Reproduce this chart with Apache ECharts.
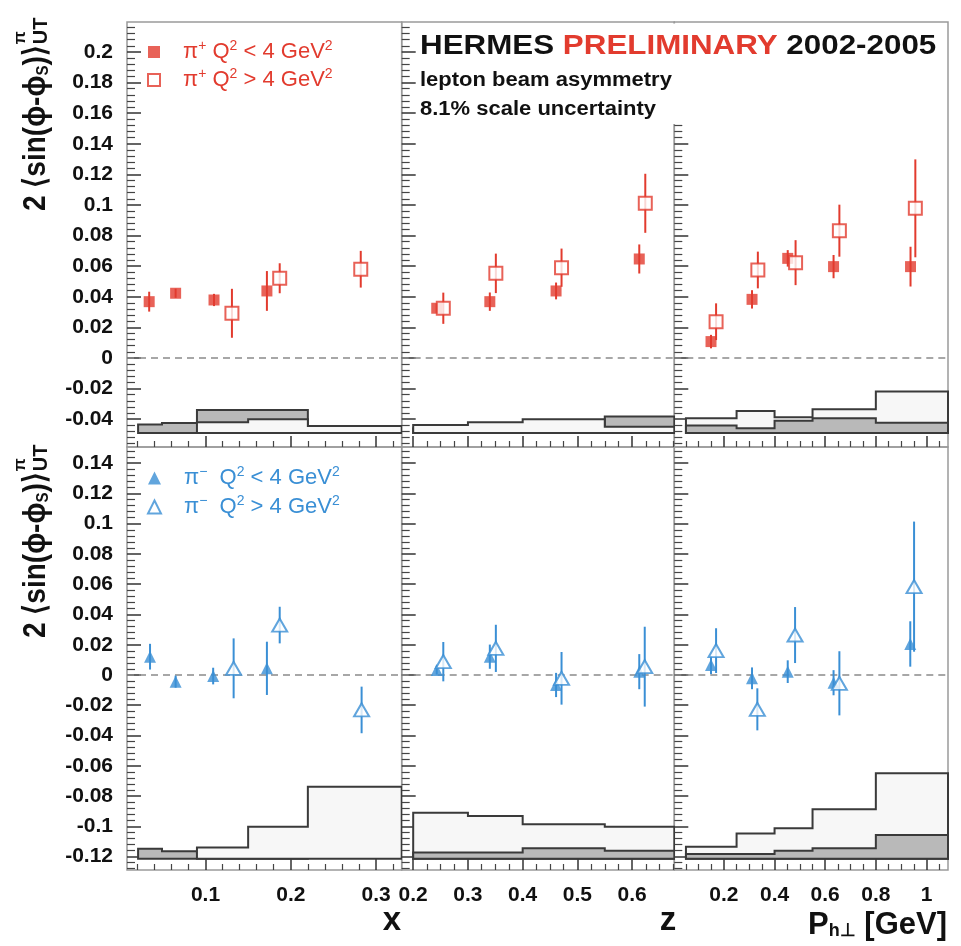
<!DOCTYPE html>
<html>
<head>
<meta charset="utf-8">
<title>HERMES lepton beam asymmetry</title>
<script src="https://cdn.jsdelivr.net/npm/echarts@6.0.0/dist/echarts.min.js"></script>
<style>
html,body{margin:0;padding:0;background:#ffffff;}
#chart{width:961px;height:946px;}
</style>
</head>
<body>
<div id="chart"></div>
<script>
// ================= DATA =================
// ---- pi+ (top row) ----
const pipX_lo_x = [0.034, 0.065, 0.110, 0.172];
const pipX_lo_y = [0.0368, 0.0423, 0.0379, 0.0438];
const pipX_lo_e = [0.0065, 0.0030, 0.0040, 0.0130];
const pipX_hi_x = [0.131, 0.187, 0.282];
const pipX_hi_y = [0.0292, 0.0521, 0.0580];
const pipX_hi_e = [0.0160, 0.0098, 0.0120];

const pipZ_lo_x = [0.243, 0.340, 0.461, 0.613];
const pipZ_lo_y = [0.0325, 0.0368, 0.0438, 0.0647];
const pipZ_lo_e = [0.0030, 0.0060, 0.0055, 0.0095];
const pipZ_hi_x = [0.255, 0.351, 0.471, 0.624];
const pipZ_hi_y = [0.0325, 0.0553, 0.0590, 0.1011];
const pipZ_hi_e = [0.0102, 0.0129, 0.0125, 0.0193];

const pipP_lo_x = [0.149, 0.311, 0.452, 0.633, 0.937];
const pipP_lo_y = [0.0107, 0.0383, 0.0651, 0.0597, 0.0597];
const pipP_lo_e = [0.0044, 0.0060, 0.0054, 0.0076, 0.0130];
const pipP_hi_x = [0.169, 0.334, 0.483, 0.656, 0.956];
const pipP_hi_y = [0.0237, 0.0575, 0.0623, 0.0832, 0.0978];
const pipP_hi_e = [0.0120, 0.0120, 0.0147, 0.0170, 0.0320];

// ---- pi- (bottom row) ----
const pimX_lo_x = [0.035, 0.065, 0.109, 0.172];
const pimX_lo_y = [0.0121, -0.0044, -0.0007, 0.0044];
const pimX_lo_e = [0.0085, 0.0040, 0.0055, 0.0176];
const pimX_hi_x = [0.133, 0.187, 0.283];
const pimX_hi_y = [0.0044, 0.0330, -0.0231];
const pimX_hi_e = [0.0198, 0.0121, 0.0154];

const pimZ_lo_x = [0.243, 0.340, 0.461, 0.613];
const pimZ_lo_y = [0.0033, 0.0121, -0.0066, 0.0022];
const pimZ_lo_e = [0.0030, 0.0080, 0.0080, 0.0116];
const pimZ_hi_x = [0.255, 0.351, 0.471, 0.623];
const pimZ_hi_y = [0.0088, 0.0176, -0.0022, 0.0055];
const pimZ_hi_e = [0.0130, 0.0156, 0.0174, 0.0264];

const pimP_lo_x = [0.149, 0.311, 0.452, 0.633, 0.936];
const pimP_lo_y = [0.0066, -0.0022, 0.0022, -0.0051, 0.0205];
const pimP_lo_e = [0.0060, 0.0072, 0.0075, 0.0083, 0.0150];
const pimP_hi_x = [0.169, 0.332, 0.481, 0.656, 0.951];
const pimP_hi_y = [0.0161, -0.0227, 0.0264, -0.0055, 0.0584];
const pimP_hi_e = [0.0148, 0.0139, 0.0185, 0.0212, 0.0430];

// ---- systematic-uncertainty histograms ----
const xBinsLo = [0.021, 0.049, 0.09, 0.15, 0.22];
const xBinsHi = [0.09, 0.15, 0.22, 0.40];
const zBins   = [0.2, 0.3, 0.4, 0.55, 0.7];
const phBins  = [0.05, 0.25, 0.4, 0.55, 0.8, 1.2];
const sysBaseTop = -0.049;
const sysBaseBot = -0.1215;
const pipX_sysLo = [-0.0435, -0.0425, -0.0340, -0.0340];
const pipX_sysHi = [-0.0420, -0.0400, -0.0444];
const pipZ_sysLo = [-0.0460, -0.0460, -0.0455, -0.0383];
const pipZ_sysHi = [-0.0438, -0.0420, -0.0400, -0.0449];
const pipP_sysLo = [-0.0442, -0.0459, -0.0410, -0.0394, -0.0423];
const pipP_sysHi = [-0.0394, -0.0346, -0.0388, -0.0335, -0.0220];
const pimX_sysLo = [-0.1148, -0.1165, -0.1180, -0.1180];
const pimX_sysHi = [-0.1141, -0.1003, -0.0738];
const pimZ_sysLo = [-0.1174, -0.1174, -0.1146, -0.1161];
const pimZ_sysHi = [-0.0910, -0.0932, -0.0987, -0.1003];
const pimP_sysLo = [-0.1183, -0.1183, -0.1161, -0.1146, -0.1057];
const pimP_sysHi = [-0.1135, -0.1047, -0.1013, -0.0888, -0.0650];

// ---- axis ranges and tick labels ----
const xRange = { x: [0.008, 0.330], z: [0.179, 0.677], ph: [0.004, 1.085] };
const yRange = { top: [-0.0582, 0.2196], bot: [-0.1289, 0.1507] };
const xTickLabels = { x: [0.1, 0.2, 0.3], z: [0.2, 0.3, 0.4, 0.5, 0.6], ph: [0.2, 0.4, 0.6, 0.8, 1.0] };
const xMinorStep = { x: 0.02, z: 0.025, ph: 0.05 };
const yTickLabelsTop = [-0.04, -0.02, 0, 0.02, 0.04, 0.06, 0.08, 0.1, 0.12, 0.14, 0.16, 0.18, 0.2];
const yTickLabelsBot = [-0.12, -0.1, -0.08, -0.06, -0.04, -0.02, 0, 0.02, 0.04, 0.06, 0.08, 0.1, 0.12, 0.14];
const yMinorStep = 0.004;

// ================= STYLE / LAYOUT =================
const RED = '#e23b2e';
const BLUE = '#3a8fd5';
const FILL_DARK = '#b9b9b9';
const FILL_LIGHT = '#f7f7f7';
const HIST_LINE = '#3a3a3a';
const FONT = "'Liberation Sans', Arial, Helvetica, sans-serif";
const COL_L = [127, 401.7, 674.3];
const COL_W = [274.7, 272.6, 273.7];
const ROW_T = [22, 447];
const ROW_H = [425, 423];

const panels = [
  { r: 0, c: 0, kind: 'x',  row: 'top', color: RED,  sym: 'rect', names: ['pipLo', 'pipHi'],
    lo: [pipX_lo_x, pipX_lo_y, pipX_lo_e], hi: [pipX_hi_x, pipX_hi_y, pipX_hi_e],
    binsLo: xBinsLo, binsHi: xBinsHi, sysLo: pipX_sysLo, sysHi: pipX_sysHi, first: 'lo' },
  { r: 0, c: 1, kind: 'z',  row: 'top', color: RED,  sym: 'rect', names: ['pipLo', 'pipHi'],
    lo: [pipZ_lo_x, pipZ_lo_y, pipZ_lo_e], hi: [pipZ_hi_x, pipZ_hi_y, pipZ_hi_e],
    binsLo: zBins, binsHi: zBins, sysLo: pipZ_sysLo, sysHi: pipZ_sysHi, first: 'lo' },
  { r: 0, c: 2, kind: 'ph', row: 'top', color: RED,  sym: 'rect', names: ['pipLo', 'pipHi'],
    lo: [pipP_lo_x, pipP_lo_y, pipP_lo_e], hi: [pipP_hi_x, pipP_hi_y, pipP_hi_e],
    binsLo: phBins, binsHi: phBins, sysLo: pipP_sysLo, sysHi: pipP_sysHi, first: 'hi' },
  { r: 1, c: 0, kind: 'x',  row: 'bot', color: BLUE, sym: 'triangle', names: ['pimLo', 'pimHi'],
    lo: [pimX_lo_x, pimX_lo_y, pimX_lo_e], hi: [pimX_hi_x, pimX_hi_y, pimX_hi_e],
    binsLo: xBinsLo, binsHi: xBinsHi, sysLo: pimX_sysLo, sysHi: pimX_sysHi, first: 'lo' },
  { r: 1, c: 1, kind: 'z',  row: 'bot', color: BLUE, sym: 'triangle', names: ['pimLo', 'pimHi'],
    lo: [pimZ_lo_x, pimZ_lo_y, pimZ_lo_e], hi: [pimZ_hi_x, pimZ_hi_y, pimZ_hi_e],
    binsLo: zBins, binsHi: zBins, sysLo: pimZ_sysLo, sysHi: pimZ_sysHi, first: 'hi' },
  { r: 1, c: 2, kind: 'ph', row: 'bot', color: BLUE, sym: 'triangle', names: ['pimLo', 'pimHi'],
    lo: [pimP_lo_x, pimP_lo_y, pimP_lo_e], hi: [pimP_hi_x, pimP_hi_y, pimP_hi_e],
    binsLo: phBins, binsHi: phBins, sysLo: pimP_sysLo, sysHi: pimP_sysHi, first: 'hi' }
];

function fmt(v) { return String(parseFloat(Number(v).toFixed(4))); }
function minorTicks(range, step, majors) {
  const out = [];
  const start = Math.ceil(range[0] / step - 1e-9);
  const end = Math.floor(range[1] / step + 1e-9);
  for (let k = start; k <= end; k++) {
    const v = parseFloat((k * step).toFixed(6));
    if (!majors.some(m => Math.abs(m - v) < 1e-9)) out.push(v);
  }
  return out;
}

const option = {
  animation: false,
  backgroundColor: '#ffffff',
  grid: [], xAxis: [], yAxis: [], series: [], legend: [], graphic: []
};

panels.forEach((p, i) => {
  const xr = xRange[p.kind], yr = yRange[p.row];
  const xMaj = xTickLabels[p.kind];
  const yMaj = p.row === 'top' ? yTickLabelsTop : yTickLabelsBot;
  const base = p.row === 'top' ? sysBaseTop : sysBaseBot;
  const showXLab = p.row === 'bot';
  const showYLab = p.c === 0;

  option.grid.push({ left: COL_L[p.c], top: ROW_T[p.r], width: COL_W[p.c], height: ROW_H[p.r],
    show: true, borderColor: '#9a9a9a', borderWidth: 1.5, backgroundColor: 'transparent' });

  const noLine = { show: false, onZero: false };
  option.xAxis.push({ type: 'value', gridIndex: i, position: 'bottom', min: xr[0], max: xr[1],
    axisLine: noLine, splitLine: { show: false },
    axisTick: { show: true, inside: true, length: 11, customValues: xMaj, lineStyle: { color: '#333', width: 1.5 } },
    axisLabel: { show: showXLab, customValues: xMaj, margin: 15, fontFamily: FONT, fontSize: 21,
      fontWeight: 'bold', color: '#111', formatter: fmt } });
  option.xAxis.push({ type: 'value', gridIndex: i, position: 'bottom', min: xr[0], max: xr[1],
    axisLine: noLine, splitLine: { show: false }, axisLabel: { show: false },
    axisTick: { show: true, inside: true, length: 6, customValues: minorTicks(xr, xMinorStep[p.kind], xMaj),
      lineStyle: { color: '#444', width: 1.2 } } });
  option.yAxis.push({ type: 'value', gridIndex: i, position: 'left', min: yr[0], max: yr[1],
    axisLine: noLine, splitLine: { show: false },
    axisTick: { show: true, inside: true, length: 14, customValues: yMaj, lineStyle: { color: '#333', width: 1.5 } },
    axisLabel: { show: showYLab, customValues: yMaj, margin: 14, fontFamily: FONT, fontSize: 21,
      fontWeight: 'bold', color: '#111', formatter: fmt } });
  option.yAxis.push({ type: 'value', gridIndex: i, position: 'left', min: yr[0], max: yr[1],
    axisLine: noLine, splitLine: { show: false }, axisLabel: { show: false },
    axisTick: { show: true, inside: true, length: 8, customValues: minorTicks(yr, yMinorStep, yMaj),
      lineStyle: { color: '#444', width: 1.2 } } });

  const ax = 2 * i;

  const hists = {
    lo: { edges: p.binsLo, vals: p.sysLo, fill: FILL_DARK },
    hi: { edges: p.binsHi, vals: p.sysHi, fill: FILL_LIGHT }
  };
  const order = p.first === 'lo' ? ['lo', 'hi'] : ['hi', 'lo'];
  order.forEach((key, k) => {
    const h = hists[key];
    option.series.push({
      type: 'custom', xAxisIndex: ax, yAxisIndex: ax, z: 1 + k, silent: true, clip: true,
      data: [[h.edges[0], base]],
      renderItem: function (params, api) {
        const cx = v => Math.max(xr[0], Math.min(xr[1], v));
        const pts = [api.coord([cx(h.edges[0]), base])];
        h.vals.forEach((v, j) => {
          pts.push(api.coord([cx(h.edges[j]), v]));
          pts.push(api.coord([cx(h.edges[j + 1]), v]));
        });
        pts.push(api.coord([cx(h.edges[h.vals.length]), base]));
        return { type: 'polygon', shape: { points: pts },
          style: { fill: h.fill, stroke: HIST_LINE, lineWidth: 2 } };
      }
    });
  });

  option.series.push({ type: 'line', xAxisIndex: ax, yAxisIndex: ax, z: 3, silent: true,
    symbol: 'none', data: [[xr[0], 0], [xr[1], 0]],
    lineStyle: { color: '#8a8a8a', width: 1.5, type: [7, 5] } });

  [['lo', p.lo, false], ['hi', p.hi, true]].forEach(([key, arr, open], k) => {
    const [xs, ys, es] = arr;
    option.series.push({
      type: 'custom', xAxisIndex: ax, yAxisIndex: ax, z: 4, silent: true,
      data: xs.map((x, j) => [x, ys[j], es[j]]),
      encode: { x: 0, y: 1 },
      renderItem: function (params, api) {
        const x = api.value(0), y = api.value(1), e = api.value(2);
        const a = api.coord([x, y - e]), b = api.coord([x, y + e]);
        return { type: 'line', shape: { x1: a[0], y1: a[1], x2: b[0], y2: b[1] },
          style: { stroke: p.color, lineWidth: 2 } };
      }
    });
    const isTri = p.sym === 'triangle';
    option.series.push({
      type: 'scatter', name: p.names[k], xAxisIndex: ax, yAxisIndex: ax, z: 5 + k, silent: true,
      symbol: p.sym,
      symbolSize: open ? (isTri ? [15, 13] : 13) : (isTri ? 12 : 11),
      data: xs.map((x, j) => [x, ys[j]]),
      itemStyle: open ? { color: '#ffffff', borderColor: p.color, borderWidth: 2 } : { color: p.color }
    });
  });
});

// ================= LEGENDS =================
function legendRich(color) {
  return {
    sp: { width: 18 },
    t: { fontSize: 22, fontFamily: FONT, color: color, lineHeight: 26 },
    s: { fontSize: 14, fontFamily: FONT, color: color, lineHeight: 14, verticalAlign: 'top' }
  };
}
const legendText = {
  pipLo: '{sp| }{t|π}{s|+}{t| Q}{s|2}{t| < 4 GeV}{s|2}',
  pipHi: '{sp| }{t|π}{s|+}{t| Q}{s|2}{t| > 4 GeV}{s|2}',
  pimLo: '{sp| }{t|π}{s|−}{t|  Q}{s|2}{t| < 4 GeV}{s|2}',
  pimHi: '{sp| }{t|π}{s|−}{t|  Q}{s|2}{t| > 4 GeV}{s|2}'
};
option.legend.push({
  left: 147, top: 39, padding: 0, orient: 'vertical', itemGap: 4, itemWidth: 12, itemHeight: 12, selectedMode: false,
  data: [ { name: 'pipLo', icon: 'rect', itemStyle: { color: RED, borderWidth: 0 } },
          { name: 'pipHi', icon: 'rect', itemStyle: { color: '#ffffff', borderColor: RED, borderWidth: 2 } } ],
  formatter: n => legendText[n],
  textStyle: { color: RED, fontFamily: FONT, fontSize: 22, rich: legendRich(RED) }
});
option.legend.push({
  left: 147, top: 465, padding: 0, orient: 'vertical', itemGap: 5, itemWidth: 13, itemHeight: 13, selectedMode: false,
  data: [ { name: 'pimLo', icon: 'triangle', itemStyle: { color: BLUE, borderWidth: 0 } },
          { name: 'pimHi', icon: 'triangle', itemStyle: { color: '#ffffff', borderColor: BLUE, borderWidth: 2 } } ],
  formatter: n => legendText[n],
  textStyle: { color: BLUE, fontFamily: FONT, fontSize: 22, rich: legendRich(BLUE) }
});

// ================= TEXT =================
const TITLE_SIZE = 28, TITLE_SUB = 15;
function measure(txt, size) {
  const c = document.createElement('canvas').getContext('2d');
  c.font = 'bold ' + size + 'px ' + FONT;
  return c.measureText(txt).width;
}
function yTitle(x0, y0) {
  const W = measure('2 ⟨sin(ϕ-ϕ', TITLE_SIZE) + measure('S', TITLE_SUB) + measure(')⟩', TITLE_SIZE);
  const R = Math.PI / 2;
  return [
    { type: 'text', x: x0, y: y0, rotation: R, scaleY: 1.12, z: 110,
      style: { text: '{m|2 ⟨sin(ϕ-ϕ}{s|S}{m|)⟩}', align: 'left', verticalAlign: 'middle',
        rich: {
          m: { fontSize: TITLE_SIZE, fontWeight: 'bold', fontFamily: FONT, fill: '#111', lineHeight: 28, verticalAlign: 'top' },
          s: { fontSize: TITLE_SUB, fontWeight: 'bold', fontFamily: FONT, fill: '#111', lineHeight: 15, padding: [17, 0, 0, 0], verticalAlign: 'bottom' }
        } } },
    { type: 'text', x: x0 - 16, y: y0 - W - 1, rotation: R, z: 110,
      style: { text: 'π', fontSize: 17, fontWeight: 'bold', fontFamily: FONT, fill: '#111', align: 'left', verticalAlign: 'middle' } },
    { type: 'text', x: x0 + 5, y: y0 - W - 1, rotation: R, z: 110,
      style: { text: 'UT', fontSize: 20, fontWeight: 'bold', fontFamily: FONT, fill: '#111', align: 'left', verticalAlign: 'middle' } }
  ];
}

option.graphic = [
  { type: 'rect', z: 100, shape: { x: 418, y: 23.5, width: 527, height: 100.5 }, style: { fill: '#ffffff' } },
  { type: 'text', x: 420, y: 46, scaleX: 1.1, z: 101,
    style: { text: '{k|HERMES }{r|PRELIMINARY}{k| 2002-2005}', verticalAlign: 'middle', align: 'left',
      rich: {
        k: { fontSize: 28.5, fontWeight: 'bold', fontFamily: FONT, fill: '#111' },
        r: { fontSize: 28.5, fontWeight: 'bold', fontFamily: FONT, fill: RED }
      } } },
  { type: 'text', x: 420, y: 80, scaleX: 1.1, z: 101,
    style: { text: 'lepton beam asymmetry', fontSize: 20, fontWeight: 'bold', fontFamily: FONT, fill: '#111', verticalAlign: 'middle' } },
  { type: 'text', x: 420, y: 109, scaleX: 1.1, z: 101,
    style: { text: '8.1% scale uncertainty', fontSize: 20, fontWeight: 'bold', fontFamily: FONT, fill: '#111', verticalAlign: 'middle' } },
  ...yTitle(36, 211),
  ...yTitle(36, 638),
  { type: 'text', x: 392, y: 921, z: 101,
    style: { text: 'x', fontSize: 33, fontWeight: 'bold', fontFamily: FONT, fill: '#111', align: 'center', verticalAlign: 'middle' } },
  { type: 'text', x: 668, y: 921, z: 101,
    style: { text: 'z', fontSize: 33, fontWeight: 'bold', fontFamily: FONT, fill: '#111', align: 'center', verticalAlign: 'middle' } },
  { type: 'text', x: 947, y: 925, z: 101,
    style: { text: '{m|P}{s|h⊥}{m| [GeV]}', align: 'right', verticalAlign: 'middle',
      rich: {
        m: { fontSize: 31, fontWeight: 'bold', fontFamily: FONT, fill: '#111', lineHeight: 30, verticalAlign: 'top' },
        s: { fontSize: 18, fontWeight: 'bold', fontFamily: FONT, fill: '#111', lineHeight: 18, padding: [18, 0, 0, 0], verticalAlign: 'bottom' }
      } } }
];

const chart = echarts.init(document.getElementById('chart'), null, { renderer: 'canvas' });
chart.setOption(option);
</script>
</body>
</html>
